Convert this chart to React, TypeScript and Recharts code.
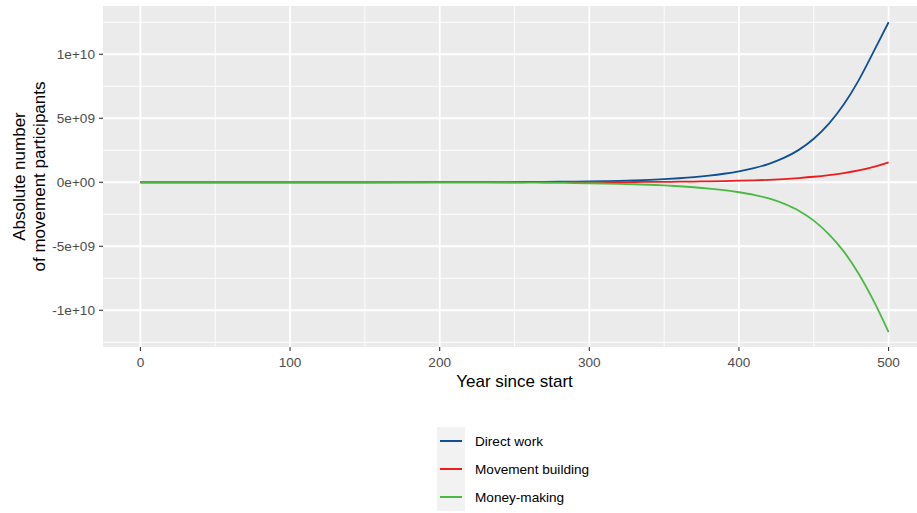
import React from 'react';
import { LineChart, Line, XAxis, YAxis, CartesianGrid, Legend } from 'recharts';

// ---- data ----
const years = [0, 50, 100, 150, 200, 250, 260, 270, 280, 290, 300, 310, 320, 330, 340, 350, 360, 370, 380, 390, 400, 410, 420, 430, 440, 450, 460, 470, 480, 490, 500];
const directWork = [1e4, 5e4, 2e5, 8e5, 3e6, 1.5e7, 2.1e7, 2.9e7, 3.8e7, 5e7, 6.5e7, 8.5e7, 1.12e8, 1.48e8, 1.9e8, 2.45e8, 3.15e8, 4.04e8, 5.18e8, 6.64e8, 8.51e8, 1.1e9, 1.44e9, 1.9e9, 2.53e9, 3.4e9, 4.56e9, 6.07e9, 7.96e9, 1.02e10, 1.25e10];
const movementBuilding = [1e3, 5e3, 2e4, 8e4, 3e5, 2e6, 3e6, 4.5e6, 6e6, 7.8e6, 9.6e6, 1.25e7, 1.6e7, 2.0e7, 2.6e7, 3.4e7, 4.35e7, 5.6e7, 7.2e7, 9.3e7, 1.2e8, 1.5e8, 1.9e8, 2.5e8, 3.3e8, 4.3e8, 5.6e8, 7.2e8, 9.3e8, 1.2e9, 1.56e9];
const moneyMaking = [-1e4, -6e4, -2.5e5, -1e6, -5e6, -2.2e7, -3e7, -4e7, -5e7, -6.2e7, -7.8e7, -9.8e7, -1.23e8, -1.55e8, -1.95e8, -2.47e8, -3.1e8, -3.9e8, -4.92e8, -6.2e8, -7.8e8, -9.8e8, -1.26e9, -1.67e9, -2.22e9, -3.0e9, -4.05e9, -5.4e9, -7.15e9, -9.27e9, -1.17e10];

const seriesKeys = ['direct', 'movement', 'money'];
const seriesNames = ['Direct work', 'Movement building', 'Money-making'];
const seriesColors = ['#114f94', '#ee1c1c', '#4cb944'];

const xTicks = [0, 100, 200, 300, 400, 500];
const xMinor = [50, 150, 250, 350, 450];
const yTicks = [-1e10, -5e9, 0, 5e9, 1e10];
const yTickLabels = ['-1e+10', '-5e+09', '0e+00', '5e+09', '1e+10'];
const yMinor = [-1.25e10, -7.5e9, -2.5e9, 2.5e9, 7.5e9, 1.25e10];

const data = years.map((y, i) => ({
  year: y,
  direct: directWork[i],
  movement: movementBuilding[i],
  money: moneyMaking[i],
}));

const FONT = '"Liberation Sans", Arial, Helvetica, sans-serif';

const XTitle = (props: any) => {
  const vb = props.viewBox || { x: 103, y: 347, width: 823, height: 40 };
  return (
    <text x={vb.x + vb.width / 2} y={vb.y + vb.height} textAnchor="middle" fontSize={17} fill="#000" fontFamily={FONT}>
      Year since start
    </text>
  );
};

const YTitle = (props: any) => {
  const vb = props.viewBox || { x: 0, y: 6, width: 103, height: 341 };
  const cy = vb.y + vb.height / 2;
  return (
    <g fontFamily={FONT} fontSize={17} fill="#000">
      <text transform={`translate(24.5,${cy}) rotate(-90)`} textAnchor="middle">Absolute number</text>
      <text transform={`translate(45.4,${cy}) rotate(-90)`} textAnchor="middle">of movement participants</text>
    </g>
  );
};

const LegendContent = () => (
  <div style={{ fontFamily: FONT, fontSize: 13.6, color: '#000' }}>
    {seriesNames.map((name, i) => (
      <div key={name} style={{ display: 'flex', alignItems: 'center', height: 28 }}>
        <div style={{ width: 28, height: 28, background: '#f2f2f2', position: 'relative' }}>
          <div style={{ position: 'absolute', left: 3, right: 3, top: 13.1, height: 1.8, background: seriesColors[i] }} />
        </div>
        <span style={{ marginLeft: 10, whiteSpace: 'nowrap' }}>{name}</span>
      </div>
    ))}
  </div>
);

export default function App() {
  return (
    <div style={{ position: 'fixed', left: 0, top: 0, width: 917, height: 513, overflow: 'hidden', background: '#fff', fontFamily: FONT }}>
      <LineChart width={926} height={513} data={data} margin={{ top: 6, right: 0, bottom: 126, left: 0 }}>
        <CartesianGrid fill="#ebebeb" fillOpacity={1} stroke="#ffffff" strokeWidth={0.9} horizontalValues={yMinor} verticalValues={xMinor} />
        <CartesianGrid fill="none" stroke="#ffffff" strokeWidth={1.8} horizontalValues={yTicks} verticalValues={xTicks} />
        <XAxis
          dataKey="year"
          type="number"
          domain={[-25, 525]}
          ticks={xTicks}
          height={40}
          axisLine={false}
          tickSize={4}
          tickMargin={6}
          tickLine={{ stroke: '#333333', strokeWidth: 1.1 }}
          tick={{ fill: '#4d4d4d', fontSize: 13.6, fontFamily: FONT }}
          label={{ content: XTitle }}
          interval={0}
        />
        <YAxis
          type="number"
          domain={[-1.287e10, 1.377e10]}
          allowDataOverflow
          ticks={yTicks}
          width={103}
          axisLine={false}
          tickSize={4}
          tickMargin={4}
          tickLine={{ stroke: '#333333', strokeWidth: 1.1 }}
          tick={{ fill: '#4d4d4d', fontSize: 13.6, fontFamily: FONT }}
          tickFormatter={(v: number) => yTickLabels[yTicks.indexOf(v)] ?? String(v)}
          label={{ content: YTitle }}
          interval={0}
        />
        {seriesKeys.map((k, i) => (
          <Line
            key={k}
            type="monotone"
            dataKey={k}
            name={seriesNames[i]}
            stroke={seriesColors[i]}
            strokeWidth={1.8}
            dot={false}
            activeDot={false}
            isAnimationActive={false}
          />
        ))}
        <Legend
          layout="horizontal"
          verticalAlign="middle"
          align="center"
          content={LegendContent}
          wrapperStyle={{ position: 'absolute', left: 437, top: 427, width: 200, height: 84 }}
        />
      </LineChart>
    </div>
  );
}
